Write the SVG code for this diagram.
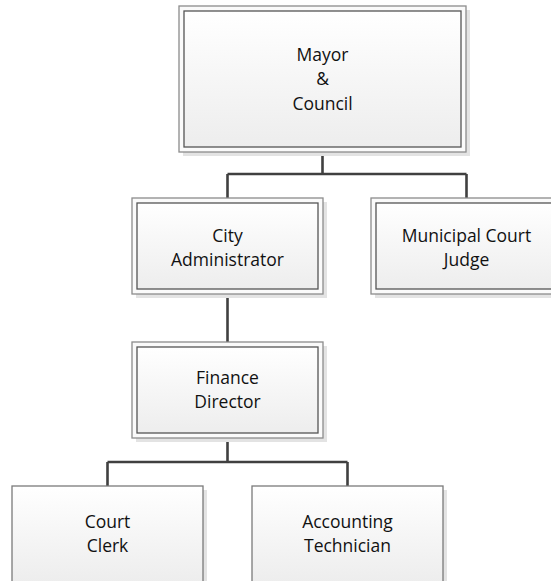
<svg xmlns="http://www.w3.org/2000/svg" width="551" height="581" viewBox="0 0 551 581">
<defs>
<linearGradient id="g" x1="0" y1="0" x2="0" y2="1">
<stop offset="0" stop-color="#ffffff"/>
<stop offset="1" stop-color="#ededed"/>
</linearGradient>
</defs>
<style>
.sh{fill:#e3e3e3;stroke:none}
.out{fill:#fafafa;stroke:#8c8c8c;stroke-width:1.3}
.in{fill:url(#g);stroke:#555555;stroke-width:1.3}
.t{font-family:"Open Sans","Liberation Sans",sans-serif;font-size:17.5px;fill:#111;text-anchor:middle}
.c{fill:none;stroke:#404040;stroke-width:2.6}
</style>
<rect width="551" height="581" fill="#ffffff"/>
<g id="connectors">
<path class="c" d="M322.5,152 V174 M227.5,174 H466.5 M227.5,174 V198 M466.5,174 V198"/>
<path class="c" d="M227.5,294 V342"/>
<path class="c" d="M227.5,438 V462 M107.5,462 H347.5 M107.5,462 V486 M347.5,462 V486"/>
</g>
<g id="mayor">
<rect class="sh" x="183" y="10" width="287" height="146"/>
<rect class="out" x="179" y="6" width="287" height="146"/>
<rect class="in" x="184" y="11" width="277" height="136"/>
<text class="t" x="322.5" y="61">Mayor</text>
<text class="t" x="322.5" y="85">&amp;</text>
<text class="t" x="322.5" y="110">Council</text>
</g>
<g id="city-administrator">
<rect class="sh" x="136" y="202" width="191" height="96"/>
<rect class="out" x="132" y="198" width="191" height="96"/>
<rect class="in" x="137" y="203" width="181" height="86"/>
<text class="t" x="227.5" y="242">City</text>
<text class="t" x="227.5" y="266">Administrator</text>
</g>
<g id="municipal-court-judge">
<rect class="sh" x="375" y="202" width="191" height="96"/>
<rect class="out" x="371" y="198" width="191" height="96"/>
<rect class="in" x="376" y="203" width="181" height="86"/>
<text class="t" x="466.5" y="242">Municipal Court</text>
<text class="t" x="466.5" y="266">Judge</text>
</g>
<g id="finance-director">
<rect class="sh" x="136" y="346" width="191" height="96"/>
<rect class="out" x="132" y="342" width="191" height="96"/>
<rect class="in" x="137" y="347" width="181" height="86"/>
<text class="t" x="227.5" y="384">Finance</text>
<text class="t" x="227.5" y="408">Director</text>
</g>
<g id="court-clerk">
<rect class="sh" x="16" y="490" width="191" height="96"/>
<rect class="in" x="12" y="486" width="191" height="96" style="stroke:#7a7a7a"/>
<text class="t" x="107.5" y="528">Court</text>
<text class="t" x="107.5" y="552">Clerk</text>
</g>
<g id="accounting-technician">
<rect class="sh" x="256" y="490" width="191" height="96"/>
<rect class="in" x="252" y="486" width="191" height="96" style="stroke:#7a7a7a"/>
<text class="t" x="347.5" y="528">Accounting</text>
<text class="t" x="347.5" y="552">Technician</text>
</g>
</svg>
